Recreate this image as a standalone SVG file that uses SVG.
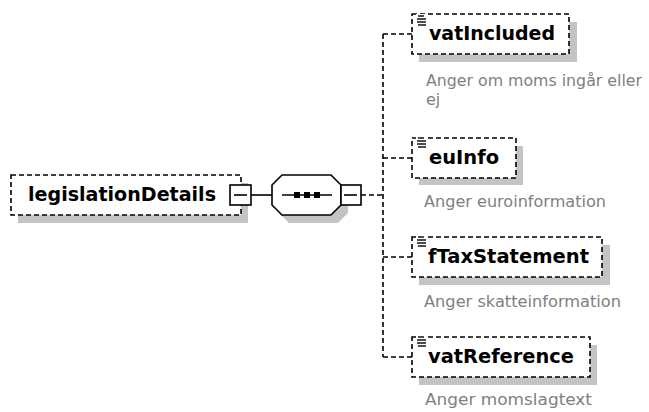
<svg xmlns="http://www.w3.org/2000/svg" width="649" height="412" viewBox="0 0 649 412">
<style>
.shadow{fill:#c4c4c4;stroke:none}
.box{fill:#ffffff;stroke:#000;stroke-width:1.6;stroke-dasharray:5,3}
.solid{fill:#ffffff;stroke:#000;stroke-width:1.6}
.name{font-family:"DejaVu Sans",Verdana,sans-serif;font-weight:bold;font-size:19px;fill:#000}
.desc{font-family:"DejaVu Sans",Verdana,sans-serif;font-size:16px;fill:#808080}
.conn{fill:none;stroke:#000;stroke-width:1.6;stroke-dasharray:5,3}
.line{fill:none;stroke:#000;stroke-width:1.6}
.icon{stroke:#000;stroke-width:1.4}
</style>
<defs>
<g id="listicon">
<rect x="4" y="0" width="11" height="12" fill="#fff"/>
<line class="icon" x1="6" y1="2" x2="12" y2="2"/>
<line class="icon" x1="5" y1="5" x2="14" y2="5"/>
<line class="icon" x1="5" y1="8" x2="14" y2="8"/>
<line class="icon" x1="6" y1="11" x2="14" y2="11"/>
</g>
</defs>

<g id="connectors">
<line class="line" x1="251" y1="195" x2="272" y2="195"/>
<line class="conn" x1="361" y1="195" x2="383" y2="195"/>
<line class="conn" x1="383" y1="34" x2="383" y2="357"/>
<line class="conn" x1="383" y1="34" x2="412" y2="34"/>
<line class="conn" x1="383" y1="158" x2="412" y2="158"/>
<line class="conn" x1="383" y1="257" x2="412" y2="257"/>
<line class="conn" x1="383" y1="357" x2="412" y2="357"/>
</g>

<g id="legislationDetails">
<rect class="shadow" x="18" y="183" width="230" height="40"/>
<rect class="box" x="11" y="175" width="230" height="40"/>
<text class="name" x="28" y="201" textLength="188" lengthAdjust="spacingAndGlyphs">legislationDetails</text>
<rect class="solid" x="230" y="185" width="21" height="20"/>
<line class="line" x1="234" y1="195" x2="247" y2="195"/>
</g>

<g id="sequence">
<polygon class="shadow" points="279,193 289,183 338,183 348,193 348,213 338,223 289,223 279,213"/>
<polygon class="solid" points="272,185 282,175 331,175 341,185 341,205 331,215 282,215 272,205"/>
<line class="line" x1="282" y1="195" x2="332" y2="195"/>
<rect x="294" y="192" width="6" height="6" fill="#000"/>
<rect x="304" y="192" width="6" height="6" fill="#000"/>
<rect x="314" y="192" width="6" height="6" fill="#000"/>
<rect class="solid" x="341" y="185" width="20" height="20"/>
<line class="line" x1="344" y1="195" x2="357" y2="195"/>
</g>

<g id="vatIncluded">
<rect class="shadow" x="419" y="22" width="158" height="40"/>
<rect class="box" x="412" y="14" width="157" height="40"/>
<use href="#listicon" x="412" y="14"/>
<text class="name" x="429" y="40" textLength="126" lengthAdjust="spacingAndGlyphs">vatIncluded</text>
<text class="desc" x="426" y="86" textLength="216" lengthAdjust="spacingAndGlyphs">Anger om moms ingår eller</text>
<text class="desc" x="426" y="105">ej</text>
</g>

<g id="euInfo">
<rect class="shadow" x="419" y="146" width="104" height="39"/>
<rect class="box" x="412" y="138" width="104" height="40"/>
<use href="#listicon" x="412" y="136"/>
<text class="name" x="429" y="164" textLength="70" lengthAdjust="spacingAndGlyphs">euInfo</text>
<text class="desc" x="424" y="207" textLength="182" lengthAdjust="spacingAndGlyphs">Anger euroinformation</text>
</g>

<g id="fTaxStatement">
<rect class="shadow" x="419" y="245" width="191" height="40"/>
<rect class="box" x="412" y="237" width="190" height="40"/>
<use href="#listicon" x="412" y="235"/>
<text class="name" x="428" y="263" textLength="161" lengthAdjust="spacingAndGlyphs">fTaxStatement</text>
<text class="desc" x="424" y="307" textLength="197" lengthAdjust="spacingAndGlyphs">Anger skatteinformation</text>
</g>

<g id="vatReference">
<rect class="shadow" x="419" y="345" width="178" height="40"/>
<rect class="box" x="412" y="337" width="178" height="40"/>
<use href="#listicon" x="412" y="335"/>
<text class="name" x="428" y="363" textLength="146" lengthAdjust="spacingAndGlyphs">vatReference</text>
<text class="desc" x="425" y="405" textLength="167" lengthAdjust="spacingAndGlyphs">Anger momslagtext</text>
</g>
</svg>
